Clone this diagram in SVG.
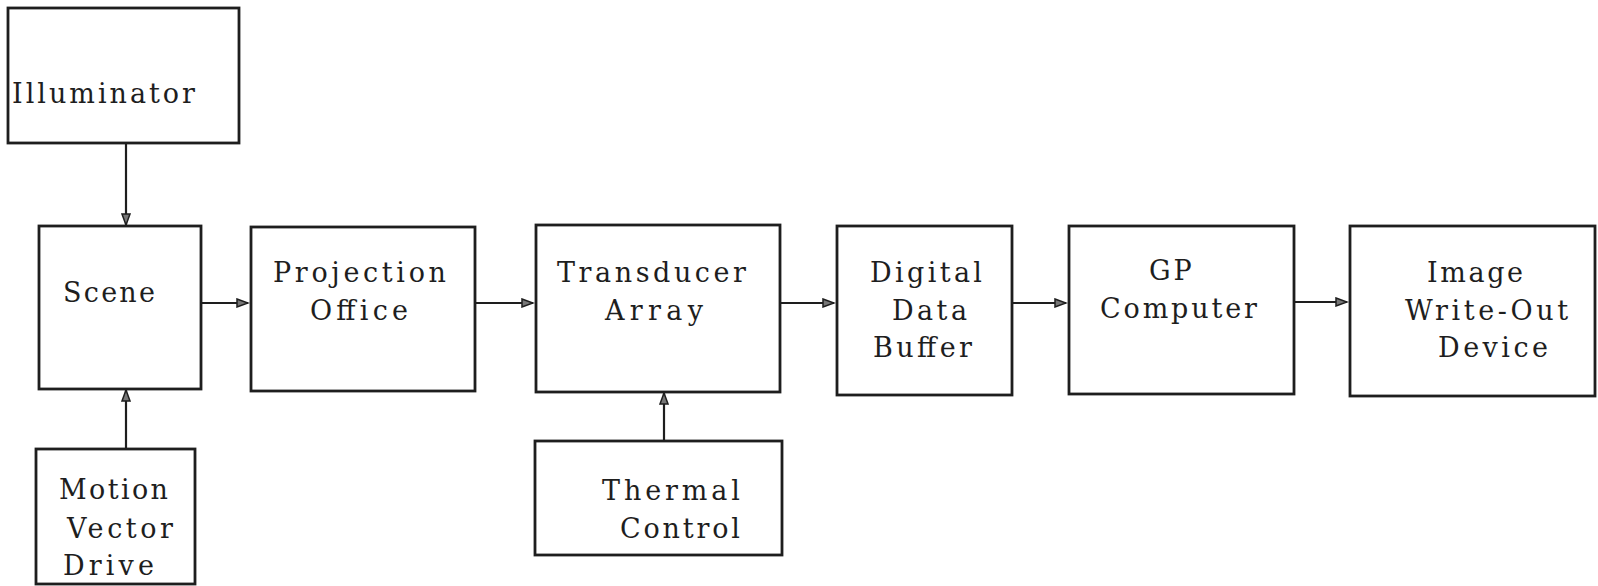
<svg xmlns="http://www.w3.org/2000/svg" width="1598" height="586" viewBox="0 0 1598 586">
<style>
.box{fill:none;stroke:#1e1e1e;stroke-width:2.8}
.lbl{font-family:"DejaVu Serif","Liberation Serif",serif;font-size:27px;fill:#1e1e1e}
.con{stroke:#1e1e1e;stroke-width:2.2;fill:none}
</style>
<defs>
<marker id="ah" markerUnits="userSpaceOnUse" markerWidth="14" markerHeight="10" refX="12" refY="5" orient="auto">
<path d="M1,1 L12,5 L1,9 Z" fill="#777" stroke="#1e1e1e" stroke-width="1.5"/>
</marker>
</defs>
<rect width="1598" height="586" fill="#fff"/>
<g id="connectors">
<line class="con" x1="126" y1="143" x2="126" y2="225" marker-end="url(#ah)"/>
<line class="con" x1="126" y1="449" x2="126" y2="390" marker-end="url(#ah)"/>
<line class="con" x1="201" y1="303" x2="248" y2="303" marker-end="url(#ah)"/>
<line class="con" x1="475" y1="303" x2="533" y2="303" marker-end="url(#ah)"/>
<line class="con" x1="780" y1="303" x2="834" y2="303" marker-end="url(#ah)"/>
<line class="con" x1="1012" y1="303" x2="1066" y2="303" marker-end="url(#ah)"/>
<line class="con" x1="1294" y1="302" x2="1347" y2="302" marker-end="url(#ah)"/>
<line class="con" x1="664" y1="441" x2="664" y2="393" marker-end="url(#ah)"/>
</g>
<g id="illuminator">
<rect class="box" x="8" y="8" width="231" height="135"/>
<text class="lbl" x="12" y="103" textLength="183" lengthAdjust="spacing">Illuminator</text>
</g>
<g id="scene">
<rect class="box" x="39" y="226" width="162" height="163"/>
<text class="lbl" x="63" y="302" textLength="92" lengthAdjust="spacing">Scene</text>
</g>
<g id="projection-office">
<rect class="box" x="251" y="227" width="224" height="164"/>
<text class="lbl" x="273" y="282" textLength="173" lengthAdjust="spacing">Projection</text>
<text class="lbl" x="310" y="320" textLength="98" lengthAdjust="spacing">Office</text>
</g>
<g id="transducer-array">
<rect class="box" x="536" y="225" width="244" height="167"/>
<text class="lbl" x="557" y="282" textLength="189" lengthAdjust="spacing">Transducer</text>
<text class="lbl" x="605" y="320" textLength="98" lengthAdjust="spacing">Array</text>
</g>
<g id="thermal-control">
<rect class="box" x="535" y="441" width="247" height="114"/>
<text class="lbl" x="602" y="500" textLength="138" lengthAdjust="spacing">Thermal</text>
<text class="lbl" x="620" y="538" textLength="120" lengthAdjust="spacing">Control</text>
</g>
<g id="digital-data-buffer">
<rect class="box" x="837" y="226" width="175" height="169"/>
<text class="lbl" x="870" y="282" textLength="112" lengthAdjust="spacing">Digital</text>
<text class="lbl" x="892" y="320" textLength="75" lengthAdjust="spacing">Data</text>
<text class="lbl" x="873" y="357" textLength="99" lengthAdjust="spacing">Buffer</text>
</g>
<g id="gp-computer">
<rect class="box" x="1069" y="226" width="225" height="168"/>
<text class="lbl" x="1149" y="280" letter-spacing="3">GP</text>
<text class="lbl" x="1100" y="318" textLength="157" lengthAdjust="spacing">Computer</text>
</g>
<g id="image-write-out-device">
<rect class="box" x="1350" y="226" width="245" height="170"/>
<text class="lbl" x="1427" y="282" textLength="96" lengthAdjust="spacing">Image</text>
<text class="lbl" x="1405" y="320" textLength="163" lengthAdjust="spacing">Write-Out</text>
<text class="lbl" x="1438" y="357" textLength="110" lengthAdjust="spacing">Device</text>
</g>
<g id="motion-vector-drive">
<rect class="box" x="36" y="449" width="159" height="135"/>
<text class="lbl" x="59" y="499" textLength="109" lengthAdjust="spacing">Motion</text>
<text class="lbl" x="67" y="538" textLength="106" lengthAdjust="spacing">Vector</text>
<text class="lbl" x="63" y="575" textLength="91" lengthAdjust="spacing">Drive</text>
</g>
</svg>
